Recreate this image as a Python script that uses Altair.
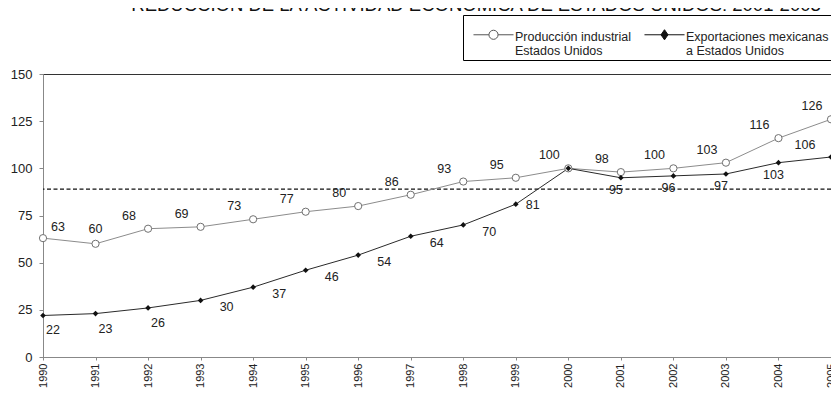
import altair as alt
import pandas as pd

# ---- data ----
years = list(range(1990, 2006))
produccion = [63, 60, 68, 69, 73, 77, 80, 86, 93, 95, 100, 98, 100, 103, 116, 126]
exportaciones = [22, 23, 26, 30, 37, 46, 54, 64, 70, 81, 100, 95, 96, 97, 103, 106]
series_names = ["Producción industrial|Estados Unidos",
                "Exportaciones mexicanas|a Estados Unidos"]
referencia = [89]
y_ticks = [0, 25, 50, 75, 100, 125, 150]
titulo = "REDUCCIÓN DE LA ACTIVIDAD ECONÓMICA DE ESTADOS UNIDOS: 2001-2003"

FONT = "Liberation Sans"

df = pd.DataFrame({
    "year": years * 2,
    "value": produccion + exportaciones,
    "serie": [series_names[0]] * len(years) + [series_names[1]] * len(years),
})
ref_df = pd.DataFrame({"ref": referencia})

x_enc = alt.X("year:O",
              scale=alt.Scale(type="point", padding=0),
              axis=alt.Axis(title=None, labelAngle=270, labelAlign="right",
                            labelBaseline="middle", labelFont=FONT,
                            labelFontSize=11, labelColor="#222",
                            labelPadding=3, tickSize=3, tickColor="#888",
                            domainColor="#888", grid=False))
y_enc = alt.Y("value:Q",
              scale=alt.Scale(domain=[0, 150], nice=False, zero=True),
              axis=alt.Axis(title=None, values=y_ticks, labelFont=FONT,
                            labelFontSize=13, labelColor="#222",
                            labelPadding=7, tickSize=4, tickColor="#888",
                            domainColor="#888", grid=False))

base = alt.Chart(df)

prod_filter = alt.datum.serie == series_names[0]
exp_filter = alt.datum.serie == series_names[1]

prod_line = base.transform_filter(prod_filter).mark_line(
    strokeWidth=1, color="#8c8c8c").encode(x=x_enc, y=y_enc)
exp_line = base.transform_filter(exp_filter).mark_line(
    strokeWidth=1, color="#2a2a2a").encode(x=x_enc, y=y_enc)

prod_pts = base.transform_filter(prod_filter).mark_point(
    shape="circle", filled=True, fill="white", stroke="#707070",
    strokeWidth=1, size=52, opacity=1
).encode(x=x_enc, y=y_enc)

exp_pts = base.transform_filter(exp_filter).mark_point(
    shape="diamond", filled=True, color="#111", size=32, opacity=1
).encode(x=x_enc, y=y_enc)

rule = alt.Chart(ref_df).mark_rule(
    strokeDash=[4, 2.5], color="#111", strokeWidth=1.2
).encode(y=alt.Y("ref:Q"))

prod_labels = base.transform_filter(prod_filter).mark_text(
    font=FONT, fontSize=12.5, color="#222",
    dx=alt.expr("datum.year == 1990 ? 15 : (datum.year == 1991 ? 0 : -19)"),
    dy=alt.expr("datum.year == 1990 ? -11 : (datum.year == 1991 ? -15 : -13)"),
).encode(x=x_enc, y=y_enc, text="value:Q")

exp_labels = base.transform_filter(exp_filter).transform_filter(
    alt.datum.year != 2000
).mark_text(
    font=FONT, fontSize=12.5, color="#222",
    dx=alt.expr("datum.year <= 1992 ? 10 : (datum.year <= 1998 ? 26 : (datum.year == 1999 ? 17 : (datum.year < 2005 ? -5 : -26)))"),
    dy=alt.expr("datum.year <= 1992 ? 15 : (datum.year <= 1998 ? 7 : (datum.year == 1999 ? 1 : (datum.year < 2005 ? 12 : -12)))"),
).encode(x=x_enc, y=y_enc, text="value:Q")

# legend symbols: a 40px line with the marker in the middle (unit = 13px)
path_prod = ("M-1.54,0.31H-0.35M0.35,0.31H1.54"
             "M-0.35,0.31A0.35,0.35,0,1,0,0.35,0.31A0.35,0.35,0,1,0,-0.35,0.31Z")
path_exp = "M-1.54,0.31H1.54M0,-0.08L0.27,0.31L0,0.70L-0.27,0.31Z"

leg = alt.Legend(title=None, orient="none", legendX=420, legendY=-59,
                 direction="horizontal", columns=2,
                 strokeColor="#000", fillColor="white", padding=2,
                 symbolSize=676, symbolStrokeWidth=1, symbolOffset=15,
                 labelOffset=8, columnPadding=4,
                 labelFont=FONT, labelFontSize=12.5, labelColor="#222",
                 labelBaseline="top",
                 labelExpr="split(datum.label, '|')")

# invisible marks (size 0) that only carry the legend
legend_layer = base.mark_point(
    filled=True, opacity=1, strokeWidth=1, size=0
).encode(
    x=x_enc, y=y_enc,
    shape=alt.Shape("serie:N", scale=alt.Scale(domain=series_names,
                                               range=[path_prod, path_exp]),
                    legend=leg),
    fill=alt.Fill("serie:N", scale=alt.Scale(domain=series_names,
                                             range=["white", "#111"]),
                  legend=leg),
    stroke=alt.Stroke("serie:N", scale=alt.Scale(domain=series_names,
                                                 range=["#555", "#111"]),
                      legend=leg),
)

chart = alt.layer(
    rule, prod_line, exp_line, legend_layer, prod_pts, exp_pts,
    prod_labels, exp_labels
).properties(
    width=788, height=283,
    autosize=alt.AutoSizeParams(type="none"),
    padding={"left": 35, "top": 66, "right": 0, "bottom": 31},
    title=alt.Title(titulo, font=FONT, fontSize=18.5, fontWeight="normal",
                    color="#111", anchor="middle", frame="group",
                    baseline="alphabetic", offset=0, dx=39, dy=15),
).configure_view(stroke="#333", strokeWidth=1)

chart.save("out.html", embed_options={"renderer": "svg", "actions": False})
